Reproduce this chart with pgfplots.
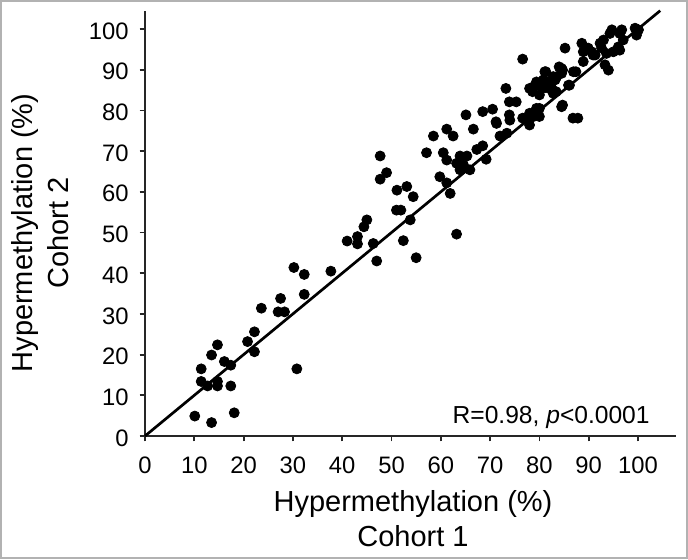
\documentclass[border=0pt]{standalone}
\usepackage{fontspec}
\setmainfont{Liberation Sans}
\usepackage{pgfplots}
\pgfplotsset{compat=1.18}
\begin{document}
\begin{tikzpicture}
\useasboundingbox (0,0) rectangle (344pt,279.5pt);
\fill[white] (0,0) rectangle (344pt,279.5pt);
\draw[gray!60, line width=1pt] (0.5pt,0.5pt) rectangle (343.5pt,279pt);
\begin{axis}[
  at={(72.5pt,61.5pt)}, anchor=origin,
  x=2.465pt, y=2.035pt,
  xmin=0, xmax=107.8, ymin=0, ymax=104.3,
  axis x line=bottom, axis y line=left,
  axis line style={-, line width=0.9pt, black!85},
  xtick={0,10,...,100}, ytick={0,10,...,100},
  tick align=outside, major tick length=2.7pt,
  tick style={line width=0.9pt, black!85},
  ticklabel style={font=\fontsize{11.9}{14}\selectfont},
  xticklabel style={yshift=-4pt},
  yticklabel style={xshift=-2pt, yshift=-1pt},
  /pgf/number format/assume math mode=true,
  clip=false,
]
\addplot[black, line width=1.35pt] coordinates {(0,0) (104.5,104.5)};
\addplot[only marks, mark=*, mark size=2.5pt, black] table {
x y
10.1 4.9
13.5 3.3
18.1 5.7
11.4 16.5
11.4 13.4
12.7 12.3
14.7 13.4
14.7 12.3
17.4 12.3
13.5 19.9
14.7 22.4
16.1 18.3
17.4 17.4
20.8 23.2
22.2 20.7
22.2 25.6
23.6 31.4
27.0 30.5
28.3 30.5
27.5 33.8
30.8 16.5
30.2 41.4
32.3 39.7
32.3 34.8
37.7 40.5
41.0 47.9
43.1 49.0
43.1 47.2
44.4 51.4
45.0 53.1
46.3 47.3
47.0 43.0
47.7 68.8
49.0 64.7
47.7 63.1
51.1 60.4
53.1 61.3
54.4 58.8
51.0 55.5
51.9 55.5
53.8 53.1
52.4 48.0
55.0 43.8
63.2 49.6
57.1 69.6
58.5 73.7
61.2 75.4
62.5 73.7
66.6 75.4
60.5 69.6
61.2 67.8
59.8 63.7
61.2 62.2
61.9 59.6
63.9 68.8
65.3 68.8
63.2 67.0
64.6 66.6
65.9 65.4
63.9 65.4
67.3 70.4
68.5 71.3
69.2 68.0
71.3 76.8
74.0 77.6
72.0 73.7
73.4 74.4
65.1 78.9
68.5 79.7
70.5 80.3
71.2 77.2
73.9 78.9
73.9 82.1
75.3 82.1
73.2 85.4
76.6 92.6
76.6 78.1
78.0 79.3
80.0 80.5
78.0 76.4
80.0 78.5
78.0 85.4
78.6 84.6
80.0 86.2
80.7 85.4
81.3 86.2
82.0 85.4
80.0 83.8
83.4 84.6
86.1 86.2
84.7 81.3
86.8 78.1
87.8 78.1
81.3 89.5
84.0 90.7
84.7 89.9
83.5 88.3
83.2 87.5
87.4 89.5
85.2 95.3
88.6 96.5
88.9 94.4
89.9 95.3
90.6 94.4
90.9 93.6
92.3 96.5
93.0 97.3
94.3 98.9
94.7 99.8
92.6 95.3
96.3 98.9
96.7 99.8
97.0 97.3
96.0 95.6
99.4 100.2
100.1 99.8
99.7 98.5
93.6 94.0
95.0 94.4
96.3 94.8
93.3 91.2
94.0 89.9
88.9 92.0
91.3 93.6
86.9 89.5
81.1 89.5
80.8 87.5
82.8 88.3
84.5 90.3
84.5 89.1
85.9 86.2
79.4 87.0
81.5 87.0
78.8 85.8
82.5 85.4
82.8 84.2
84.5 80.9
79.4 80.5
78.8 78.5
};
\end{axis}
\node[anchor=base east, font=\fontsize{12.3}{14}\selectfont, inner sep=0pt] at (325pt,68pt) {R=0.98, \textit{p}<0.0001};
\node[anchor=base, font=\fontsize{14.5}{17}\selectfont, inner sep=0pt] at (206.5pt,23.65pt) {Hypermethylation (\%)};
\node[anchor=base, font=\fontsize{14.5}{17}\selectfont, inner sep=0pt] at (206.5pt,6.15pt) {Cohort 1};
\node[anchor=base, rotate=90, font=\fontsize{14.5}{17}\selectfont, inner sep=0pt] at (16pt,163pt) {Hypermethylation (\%)};
\node[anchor=base, rotate=90, font=\fontsize{14.5}{17}\selectfont, inner sep=0pt] at (34pt,163pt) {Cohort 2};
\end{tikzpicture}
\end{document}
